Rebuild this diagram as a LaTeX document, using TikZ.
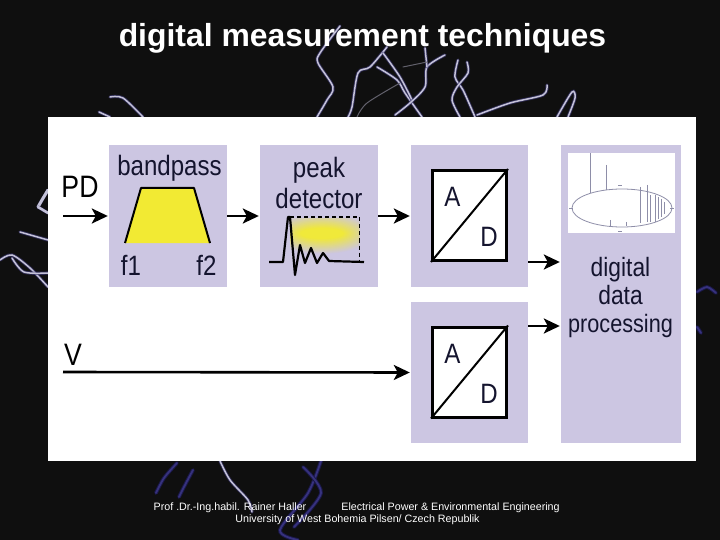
\documentclass[tikz,border=0pt]{standalone}
\usepackage{fontspec}
\setmainfont{Liberation Sans}
\newfontfamily\labf[FakeStretch=0.86]{Liberation Sans}
\usetikzlibrary{arrows.meta,calc}
\definecolor{bgdark}{HTML}{0F0F0F}
\definecolor{lilac}{HTML}{CCC6E2}
\definecolor{ink}{HTML}{14142E}
\definecolor{stk}{HTML}{C4C2D8}
\definecolor{stkhalo}{HTML}{3A3670}
\definecolor{stkdeep}{HTML}{37327E}
\definecolor{stkdeeph}{HTML}{1A1848}
\definecolor{trap}{HTML}{F2EA33}
\definecolor{spike}{HTML}{8E8EA8}
\tikzset{
  blockbox/.style={fill=lilac,inner sep=0pt,minimum width=#1},
  lab/.style={text=ink,font=\labf\fontsize{28}{28}\selectfont,inner sep=0pt,anchor=base},
  small/.style={text=ink,font=\labf\fontsize{26.5}{26.5}\selectfont,inner sep=0pt,anchor=base},
  conv/.style={draw=black,line width=3pt,fill=white,inner sep=0pt,minimum width=74pt,minimum height=90pt},
  arr/.style={draw=black,line width=2.6pt,-{Stealth[length=16pt,width=15pt,inset=4pt]}},
  streak/.style={draw=stk,line width=1.5pt,line cap=round,preaction={draw=stkhalo,line width=3.2pt,line cap=round,opacity=.7}},
  dim/.style={draw=stk!50!black,line width=1pt,line cap=round},
  deep/.style={draw=stkdeep,line width=1.8pt,line cap=round,preaction={draw=stkdeeph,line width=3.8pt,line cap=round}},
  foot/.style={text=white,font=\fontsize{10.7}{11}\selectfont,inner sep=0pt,anchor=base},
  spk/.style={draw=spike,line width=.7pt}
}
\begin{document}
\begin{tikzpicture}[x=1pt,y=-1pt]
\fill[bgdark] (0,0) rectangle (720,540);
\useasboundingbox (0,0) rectangle (720,540);
% background discharge streaks
\draw[streak] plot[smooth] coordinates {(340,26) (320,53) (318,63) (333,87) (327,100) (317,117)};
\draw[streak] plot[smooth] coordinates {(387,47) (370,67) (358,73) (352,107) (348,117)};
\draw[streak] plot[smooth] coordinates {(377,67) (397,80) (405,93) (422,117)};
\draw[streak] plot[smooth] coordinates {(383,53) (400,77) (412,100)};
\draw[streak] plot[smooth] coordinates {(445,55) (427,67) (425,87) (410,103) (395,115)};
\draw[streak] plot[smooth] coordinates {(425,48) (427,67)};
\draw[dim] plot[smooth] coordinates {(403,67) (427,62)};
\draw[dim] plot[smooth] coordinates {(357,117) (367,103) (400,83)};
\draw[streak] plot[smooth] coordinates {(458,60) (455,77) (463,90) (472,110) (475,117)};
\draw[streak] plot[smooth] coordinates {(467,62) (468,73) (457,87) (452,100) (460,117)};
\draw[streak] plot[smooth] coordinates {(477,115) (510,103) (543,95) (547,85)};
\draw[streak] plot[smooth] coordinates {(557,117) (572,92) (575,98) (568,117)};
\draw[streak] plot[smooth] coordinates {(110,97) (123,98) (143,117)};
\draw[streak] plot[smooth] coordinates {(99,112) (110,117)};
\draw[streak,line width=3pt] plot[smooth] coordinates {(38,207) (42,200) (48,190)};
\draw[streak,line width=2.5pt] plot[smooth] coordinates {(38,207) (48,213)};
\draw[streak] plot[smooth] coordinates {(20,232) (34,236) (48,240)};
\draw[streak] plot[smooth] coordinates {(0,260) (12,255) (30,268) (48,287)};
\draw[streak] plot[smooth] coordinates {(12,258) (24,272) (48,273)};
\draw[deep] plot[smooth] coordinates {(697,292) (707,287) (716,293)};
\draw[deep] plot[smooth] coordinates {(697,327) (701,333)};
\draw[deep] plot[smooth] coordinates {(177,463) (164,478) (156,493)};
\draw[deep] plot[smooth] coordinates {(193,470) (185,485) (179,497)};
\draw[streak] plot[smooth] coordinates {(220,461) (230,480) (248,500) (252,512)};
\draw[deep] plot[smooth] coordinates {(321,461) (308,493) (280,530) (298,540)};
\draw[deep] plot[smooth] coordinates {(303,467) (321,493) (294,527)};
% title
\node[text=white,font=\bfseries\fontsize{31.9}{32}\selectfont,inner sep=0pt,anchor=base] (title) at (362.5,47) {digital measurement techniques};
% sheet
\node[fill=white,inner sep=0pt,minimum width=648pt,minimum height=344pt] (sheet) at (372,289) {};
% blocks
\node[blockbox=118pt,minimum height=142pt] (bp) at (168,216) {};
\node[blockbox=118pt,minimum height=142pt] (pk) at (319,216) {};
\node[blockbox=117pt,minimum height=142pt] (ad1box) at (469.5,216) {};
\node[blockbox=117pt,minimum height=141pt] (ad2box) at (469.5,372.5) {};
\node[blockbox=120pt,minimum height=298pt] (dsp) at (621,294) {};
% bandpass
\node[lab] (bptxt) at (169.5,176) {bandpass};
\draw[fill=trap,draw=none] (125,243) -- (141,188) -- (194,188) -- (210,243) -- cycle;
\draw[line width=2pt,line join=round] (125,243) -- (141,188) -- (194,188) -- (210,243);
\node[lab] (f1) at (131,275) {f1};
\node[lab] (f2) at (206.5,275) {f2};
% peak detector
\node[lab] (pk1) at (319,178) {peak};
\node[lab] (pk2) at (319,208) {detector};
\begin{scope}
\clip (290,219) rectangle (359,253);
\foreach \p in {1,...,24}
  \fill[trap!\fpeval{\p*4}!lilac] (322,233.5) ellipse [x radius={52-\p*1.25},y radius={21-\p*0.65}];
\end{scope}
\draw[line width=1.2pt,dash pattern=on 4pt off 3pt] (290,217) -- (359.5,217) -- (359.5,262);
\draw[line width=2.2pt,line join=round] (269,262) -- (283,262) -- (288,217) -- (290,217) -- (295,275) -- (300,245) -- (305,263) -- (311,248) -- (317,263) -- (323,253) -- (329,261) -- (364,262);
% converters
\node[conv] (ad1) at (469.5,215.5) {};
\draw[line width=2pt] (ad1.south west) -- (ad1.north east);
\node[lab] (a1) at (452.5,207) {A};
\node[lab] (d1) at (489,247) {D};
\node[conv] (ad2) at (469.5,372) {};
\draw[line width=2pt] (ad2.south west) -- (ad2.north east);
\node[lab] (a2) at (452.5,363) {A};
\node[lab] (d2) at (489,403) {D};
% inputs
\node[text=black,font=\labf\fontsize{31}{31}\selectfont,inner sep=0pt,anchor=base] (pd) at (80,197) {PD};
\node[text=black,font=\labf\fontsize{31}{31}\selectfont,inner sep=0pt,anchor=base] (v) at (73,365) {V};
\coordinate (pdin) at (63,216);
\coordinate (vin) at (63,372);
\coordinate (y1) at (0,262);
\coordinate (y2) at (0,326);
% digital data processing
\node[small] (d3) at (620.5,276) {digital};
\node[small] (d4) at (620.5,304) {data};
\node[small,font=\labf\fontsize{25.2}{26}\selectfont] (d5) at (620.5,332) {processing};
\node[fill=white,inner sep=0pt,minimum width=107pt,minimum height=80pt] (inset) at (621.5,193) {};
\draw[draw=spike,line width=.8pt] (622,208) ellipse [x radius=50,y radius=19];
\foreach \xa/\ya/\yb in {590/153/193,606/165/190,640/187/223,647/185/222,650/195/222,655/195/222,658/197/219,661/199/217,664/202/214,610/220/226,626/222/226}
  \draw[spk] (\xa,\ya) -- (\xa,\yb);
\foreach \xa/\ya in {620/185,672/208,571/208,620/231}
  \draw[spk] (\xa-2,\ya) -- (\xa+2,\ya);
% connectors
\draw[arr] (pdin) -- ([xshift=-1pt]bp.west);
\draw[arr] (bp.east) -- ([xshift=-1pt]pk.west);
\draw[arr] (pk.east) -- ([xshift=-1pt]ad1box.west);
\draw[arr] (ad1box.east |- y1) -- ([xshift=-1pt]dsp.west |- y1);
\draw[arr] (ad2box.east |- y2) -- ([xshift=-1pt]dsp.west |- y2);
\draw[arr] (vin) -- ([xshift=-1pt]ad2box.west);
% footer
\node[foot] (fa) at (230,510.5) {Prof .Dr.-Ing.habil. Rainer Haller};
\node[foot] (fb) at (450.5,510.5) {Electrical Power \& Environmental Engineering};
\node[foot] (fc) at (357.5,522.5) {University of West Bohemia Pilsen/ Czech Republik};
\end{tikzpicture}
\end{document}
